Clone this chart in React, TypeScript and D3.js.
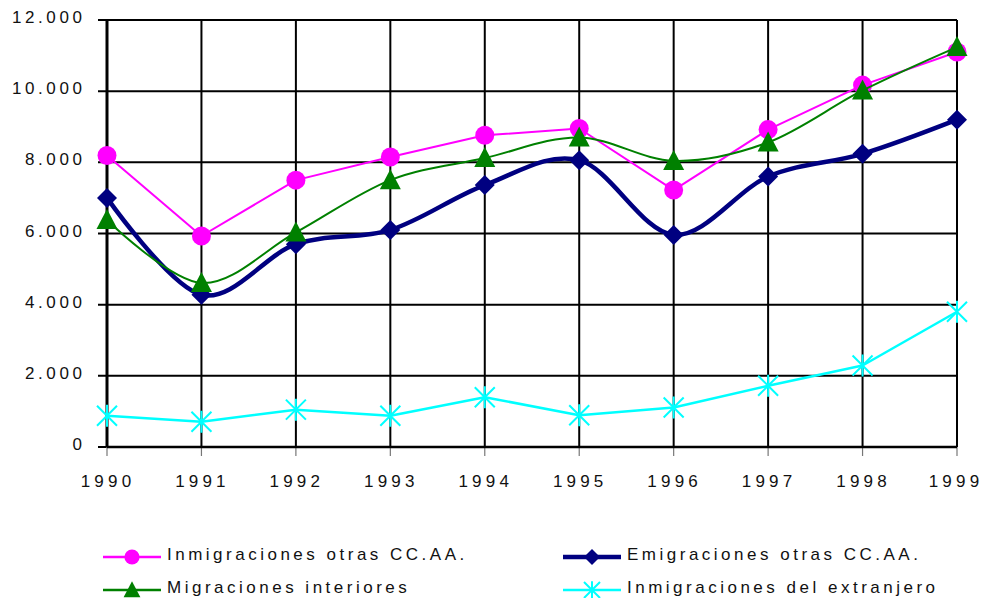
import * as d3 from 'd3';

// años y series
const years = [1990, 1991, 1992, 1993, 1994, 1995, 1996, 1997, 1998, 1999];
const inmigOtras = [8190, 5930, 7500, 8150, 8760, 8950, 7220, 8920, 10170, 11100];
const emigOtras = [7000, 4280, 5700, 6100, 7360, 8060, 5960, 7600, 8240, 9200];
const migInteriores = [6380, 4610, 6030, 7500, 8120, 8700, 8040, 8560, 10020, 11240];
const inmigExtranjero = [880, 710, 1050, 880, 1400, 890, 1110, 1720, 2290, 3800];
const yTicks = [0, 2000, 4000, 6000, 8000, 10000, 12000];
const seriesNames = [
  'Inmigraciones otras CC.AA.',
  'Emigraciones otras CC.AA.',
  'Migraciones interiores',
  'Inmigraciones del extranjero',
];

type Marker = 'circle' | 'diamond' | 'triangle' | 'star';

const W = 983;
const H = 598;
const plot = { left: 107, right: 957, top: 20, bottom: 447 };

const x = d3.scaleLinear().domain([1990, 1999]).range([plot.left, plot.right]);
const y = d3.scaleLinear().domain([0, 12000]).range([plot.bottom, plot.top]);

const fmt = (v: number) => d3.format(',')(v).replace(/,/g, '.');

function markerPath(kind: Marker, s: number) {
  if (kind === 'circle') return d3.symbol(d3.symbolCircle, Math.PI * (9.5 * s) ** 2)()!;
  if (kind === 'diamond') {
    const h = 10 * s;
    return `M0,${-h}L${h},0L0,${h}L${-h},0Z`;
  }
  if (kind === 'triangle') {
    const w = 10.5 * s;
    return `M0,${-11 * s}L${w},${9 * s}L${-w},${9 * s}Z`;
  }
  const a = 10 * s;
  return `M${-a},${-a}L${a},${a}M${-a},${a}L${a},${-a}M0,${-11 * s}L0,${11 * s}`;
}

function MarkerShape({ kind, color, cx, cy, s = 1 }: { kind: Marker; color: string; cx: number; cy: number; s?: number }) {
  const d = markerPath(kind, s);
  if (kind === 'star') {
    return <path d={d} transform={`translate(${cx},${cy})`} fill="none" stroke={color} strokeWidth={2} />;
  }
  return <path d={d} transform={`translate(${cx},${cy})`} fill={color} />;
}

const series = [
  { name: seriesNames[0], values: inmigOtras, color: '#FF00FF', width: 2, smooth: false, marker: 'circle' as Marker },
  { name: seriesNames[1], values: emigOtras, color: '#000080', width: 4.5, smooth: true, marker: 'diamond' as Marker },
  { name: seriesNames[2], values: migInteriores, color: '#008000', width: 2, smooth: true, marker: 'triangle' as Marker },
  { name: seriesNames[3], values: inmigExtranjero, color: '#00FFFF', width: 2.5, smooth: false, marker: 'star' as Marker },
];

const legendPos = [
  { x: 103, y: 557 },
  { x: 563, y: 557 },
  { x: 103, y: 590 },
  { x: 563, y: 590 },
];

export default function App() {
  const font = 'Liberation Sans, Arial, sans-serif';

  return (
    <svg
      width={W}
      height={H}
      style={{ position: 'absolute', left: 0, top: 0, background: '#fff' }}
      fontFamily={font}
    >
      {/* horizontal grid + left ticks */}
      {yTicks.map(t => (
        <g key={t}>
          <line x1={plot.left - 9} x2={plot.right} y1={y(t)} y2={y(t)} stroke="#000" strokeWidth={2} />
          <text
            x={85.5}
            y={y(t) + 3}
            textAnchor="end"
            fontSize={17}
            letterSpacing={3.6}
            fill="#111"
          >
            {fmt(t)}
          </text>
        </g>
      ))}

      {/* vertical grid + bottom ticks */}
      {years.map(yr => (
        <g key={yr}>
          <line x1={x(yr)} x2={x(yr)} y1={plot.top} y2={plot.bottom} stroke="#000" strokeWidth={yr === 1990 ? 3 : 2} />
          <line x1={x(yr)} x2={x(yr)} y1={plot.bottom} y2={plot.bottom + 9} stroke="#777" strokeWidth={1.2} />
          <text x={x(yr) + (yr === 1999 ? -1 : 1)} y={487} textAnchor="middle" fontSize={17} letterSpacing={4.2} fill="#111">
            {yr}
          </text>
        </g>
      ))}
      <line x1={plot.left} x2={plot.right} y1={plot.bottom} y2={plot.bottom} stroke="#000" strokeWidth={2.5} />

      {/* series */}
      {series.map(s => {
        const line = d3
          .line<number>()
          .x((_, i) => x(years[i]))
          .y(v => y(v))
          .curve(s.smooth ? d3.curveCardinal.tension(0) : d3.curveLinear);
        return (
          <g key={s.name}>
            <path d={line(s.values)!} fill="none" stroke={s.color} strokeWidth={s.width} strokeLinejoin="round" />
            {s.values.map((v, i) => (
              <MarkerShape key={i} kind={s.marker} color={s.color} cx={x(years[i])} cy={y(v)} />
            ))}
          </g>
        );
      })}

      {/* legend */}
      {series.map((s, i) => {
        const p = legendPos[i];
        return (
          <g key={s.name}>
            <line x1={p.x} x2={p.x + 58} y1={p.y} y2={p.y} stroke={s.color} strokeWidth={Math.max(2.5, s.width)} />
            <MarkerShape kind={s.marker} color={s.color} cx={p.x + 29} cy={p.y} s={0.8} />
            <text x={p.x + 64} y={p.y + 3} fontSize={17} letterSpacing={3.5} fill="#111">
              {s.name}
            </text>
          </g>
        );
      })}
    </svg>
  );
}
